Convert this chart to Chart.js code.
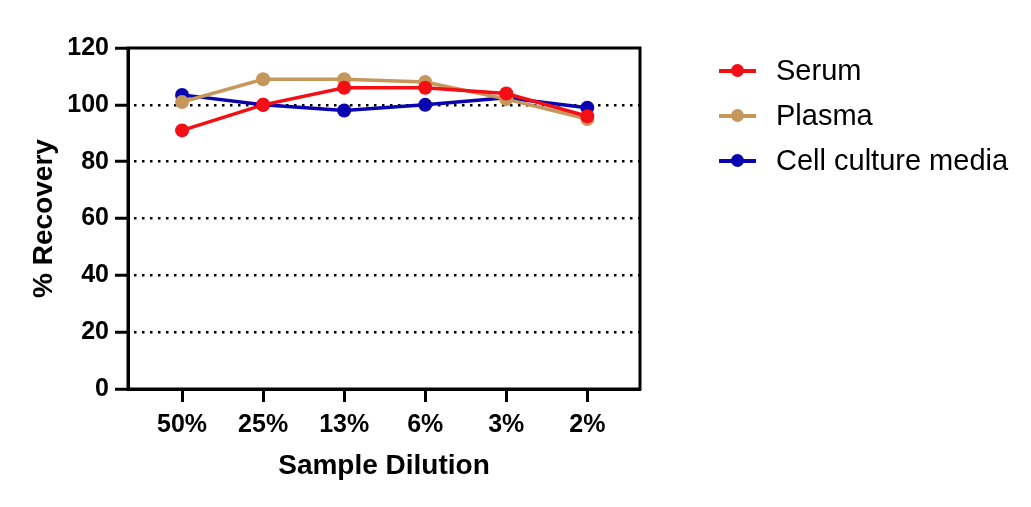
<!DOCTYPE html>
<html>
<head>
<meta charset="utf-8">
<script src="https://cdn.jsdelivr.net/npm/chart.js@4/dist/chart.umd.min.js"></script>
<style>
  html, body { margin: 0; padding: 0; background: #fff; }
  #wrap { position: relative; width: 1031px; height: 507px; }
  #legend { position: absolute; left: 718px; top: 48px; font-family: "Liberation Sans", Arial, sans-serif; font-size: 29px; color: #000; }
  .row { position: relative; height: 45px; }
  .row .ln { position: absolute; left: 1px; top: 21px; width: 37px; height: 4px; }
  .row .dot { position: absolute; left: 13px; top: 16px; width: 13px; height: 13px; border-radius: 50%; }
  .row .txt { position: absolute; left: 58px; top: 6px; white-space: nowrap; }
</style>
</head>
<body>
<div id="wrap">
  <canvas id="chart" width="1031" height="507"></canvas>
  <div id="legend"></div>
</div>
<script>
// Data
const categories = ['50%', '25%', '13%', '6%', '3%', '2%'];
const serum = [91, 100, 106, 106, 104, 96];
const plasma = [101, 109, 109, 108, 102, 95];
const cellMedia = [103.5, 100, 98, 100, 102.5, 99];
const yTicks = [0, 20, 40, 60, 80, 100, 120];

const seriesNames = ['Serum', 'Plasma', 'Cell culture media'];
const seriesColors = ['#f40f14', '#c6975a', '#0a05b0'];
const seriesValues = [serum, plasma, cellMedia];

const FONT = '"Liberation Sans", Arial, sans-serif';

// frame round the plot area
const boxPlugin = {
    id: 'box',
    beforeDatasetsDraw(chart) {
        const a = chart.chartArea;
        const ctx = chart.ctx;
        ctx.save();
        ctx.strokeStyle = '#000';
        ctx.lineWidth = 3;
        ctx.strokeRect(a.left, a.top, a.right - a.left, a.bottom - a.top);
        ctx.restore();
    }
};

const datasets = seriesNames.map((name, i) => ({
    label: name,
    data: seriesValues[i].map((v, j) => ({ x: j, y: v })),
    borderColor: seriesColors[i],
    backgroundColor: seriesColors[i],
    pointBackgroundColor: seriesColors[i],
    pointBorderColor: seriesColors[i],
    borderWidth: 3.5,
    pointRadius: 7,
    pointBorderWidth: 0,
    tension: 0,
    clip: false
}));

new Chart(document.getElementById('chart'), {
    type: 'line',
    data: { datasets: datasets },
    options: {
        responsive: false,
        animation: false,
        layout: { padding: { left: 0, top: 48, right: 391, bottom: 0 } },
        plugins: { legend: { display: false }, tooltip: { enabled: false } },
        scales: {
            x: {
                type: 'linear',
                min: -0.667,
                max: 5.65,
                afterBuildTicks(scale) {
                    scale.ticks = categories.map((c, i) => ({ value: i }));
                },
                afterFit(scale) { scale.height = 118; },
                ticks: {
                    callback: (v) => categories[v],
                    color: '#000',
                    padding: 8,
                    font: { family: FONT, size: 25, weight: 'bold' }
                },
                grid: {
                    drawOnChartArea: false,
                    drawTicks: true,
                    tickLength: 13,
                    tickWidth: 3,
                    tickColor: '#000',
                    color: '#000'
                },
                border: { display: true, color: '#000', width: 3 },
                title: {
                    display: true,
                    text: 'Sample Dilution',
                    color: '#000',
                    padding: { top: 0, bottom: 24 },
                    font: { family: FONT, size: 28, weight: 'bold' }
                }
            },
            y: {
                min: 0,
                max: 120,
                afterBuildTicks(scale) {
                    scale.ticks = yTicks.map(v => ({ value: v }));
                },
                afterFit(scale) { scale.width = 128; },
                ticks: {
                    color: '#000',
                    padding: 6,
                    font: { family: FONT, size: 25, weight: 'bold' }
                },
                grid: {
                    drawTicks: true,
                    tickLength: 13,
                    tickWidth: 3,
                    tickColor: '#000',
                    tickBorderDash: [],
                    lineWidth: 2.5,
                    color: (ctx) => (ctx.tick && ctx.tick.value > 0 && ctx.tick.value < 120) ? '#000' : 'rgba(0,0,0,0)'
                },
                border: { display: true, color: '#000', width: 3, dash: [2.5, 5.5], dashOffset: -4 },
                title: {
                    display: true,
                    text: '% Recovery',
                    color: '#000',
                    padding: { top: 27, bottom: 0 },
                    font: { family: FONT, size: 28, weight: 'bold' }
                }
            }
        }
    },
    plugins: [boxPlugin]
});

// Legend: short line with a dot, then the series name
const legend = document.getElementById('legend');
seriesNames.forEach((name, i) => {
    const row = document.createElement('div');
    row.className = 'row';
    row.innerHTML = `<div class="ln" style="background:${seriesColors[i]}"></div>` +
        `<div class="dot" style="background:${seriesColors[i]}"></div>` +
        `<div class="txt">${name}</div>`;
    legend.appendChild(row);
});
</script>
</body>
</html>
